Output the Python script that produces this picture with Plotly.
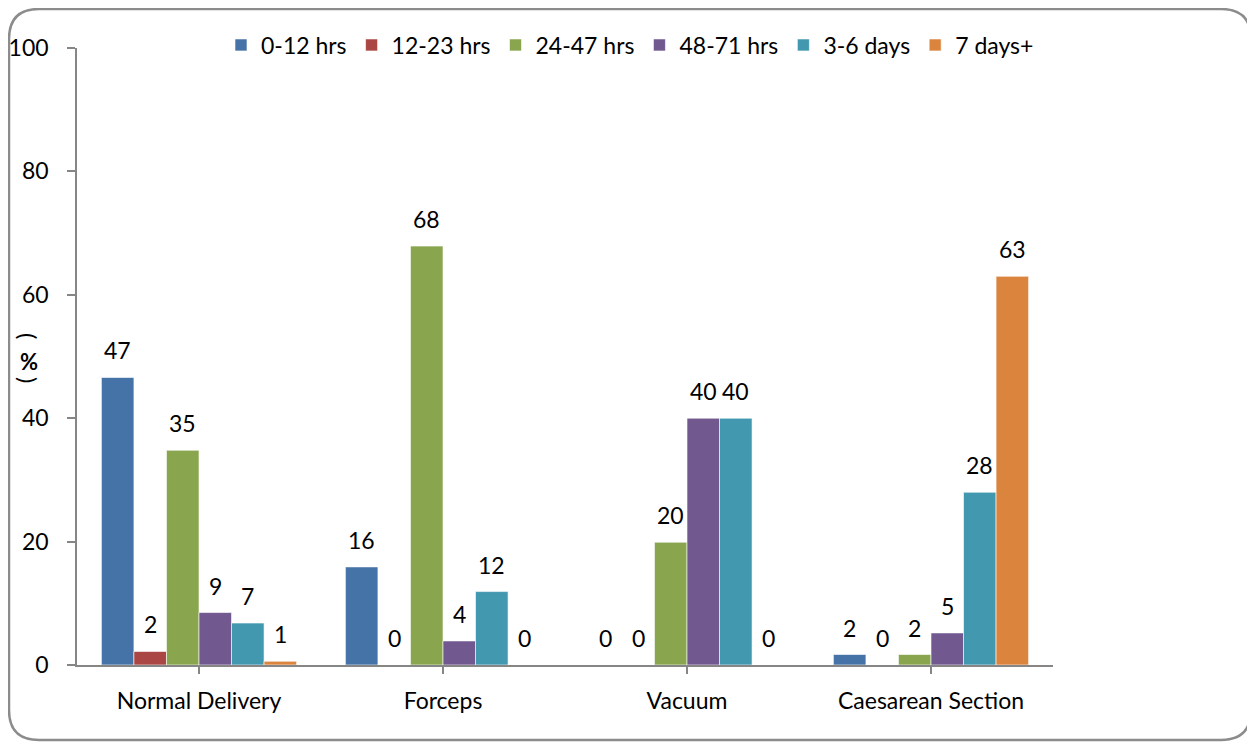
import plotly.graph_objects as go

categories = ["Normal Delivery", "Forceps", "Vacuum", "Caesarean Section"]
series_names = ["0-12 hrs", "12-23 hrs", "24-47 hrs", "48-71 hrs", "3-6 days", "7 days+"]
colors = ["#4572A7", "#AA4643", "#89A54E", "#71588F", "#4198AF", "#DB843D"]

# bar heights
v_0_12 = [46.6, 15.9, 0.0, 1.7]
v_12_23 = [2.2, 0.0, 0.0, 0.0]
v_24_47 = [34.8, 67.9, 19.9, 1.7]
v_48_71 = [8.5, 3.9, 40.0, 5.2]
v_3_6 = [6.8, 11.9, 40.0, 28.0]
v_7plus = [0.6, 0.0, 0.0, 63.0]

# label texts shown on the chart
t_0_12 = ["47", "16", "0", "2"]
t_12_23 = ["2", "0", "0", "0"]
t_24_47 = ["35", "68", "20", "2"]
t_48_71 = ["9", "4", "40", "5"]
t_3_6 = ["7", "12", "40", "28"]
t_7plus = ["1", "0", "0", "63"]

values = [v_0_12, v_12_23, v_24_47, v_48_71, v_3_6, v_7plus]
labels = [t_0_12, t_12_23, t_24_47, t_48_71, t_3_6, t_7plus]

FONT = "Lato"
FS = 23
OFF = 8  # browser body margin
W, H = 1255 - OFF, 744 - OFF
# plot area in window pixels
L, R, T, B = 77, 1053, 48, 665

fig = go.Figure()
for name, col, vals in zip(series_names, colors, values):
    fig.add_trace(go.Bar(
        name=name, x=list(range(len(categories))), y=vals,
        marker=dict(color=col, line=dict(color="white", width=0.6)),
    ))

bargap = 0.2
n = len(series_names)
w = (1 - bargap) / n
annotations = []
for j, (vals, txts) in enumerate(zip(values, labels)):
    for i, (v, t) in enumerate(zip(vals, txts)):
        annotations.append(dict(
            x=i + (j - (n - 1) / 2) * w, y=v, xref="x", yref="y",
            text=t, showarrow=False, xanchor="center", yanchor="bottom", yshift=11,
            font=dict(family=FONT, size=FS, color="black"),
        ))

def px(x):
    return (x - L) / (R - L)

def py(y):
    return (B - y) / (B - T)

# y-axis title: ( % ) stacked vertically, parentheses turned sideways
ax_x = px(29)
annotations.append(dict(x=ax_x, y=py(336), xref="paper", yref="paper", text="(", textangle=90,
                        xanchor="center", yanchor="middle", showarrow=False,
                        font=dict(family=FONT, size=24, color="black")))
annotations.append(dict(x=ax_x, y=py(361), xref="paper", yref="paper", text="<b>%</b>",
                        xanchor="center", yanchor="middle", showarrow=False,
                        font=dict(family=FONT, size=22, color="black")))
annotations.append(dict(x=ax_x, y=py(380), xref="paper", yref="paper", text=")", textangle=90,
                        xanchor="center", yanchor="middle", showarrow=False,
                        font=dict(family=FONT, size=24, color="black")))

# rounded frame (window pixel coords, clamped inside figure)
x0, y0, x1, y1, r = OFF + 1, OFF + 1, 1251, 740, 30
pts = (f"M {px(x0 + r)},{py(y0)} L {px(x1 - r)},{py(y0)} "
       f"Q {px(x1)},{py(y0)} {px(x1)},{py(y0 + r)} "
       f"L {px(x1)},{py(y1 - r)} Q {px(x1)},{py(y1)} {px(x1 - r)},{py(y1)} "
       f"L {px(x0 + r)},{py(y1)} Q {px(x0)},{py(y1)} {px(x0)},{py(y1 - r)} "
       f"L {px(x0)},{py(y0 + r)} Q {px(x0)},{py(y0)} {px(x0 + r)},{py(y0)} Z")

fig.update_layout(
    width=W, height=H,
    margin=dict(l=L - OFF, r=1255 - R, t=T - OFF, b=744 - B, pad=0, autoexpand=False),
    paper_bgcolor="white", plot_bgcolor="white",
    barmode="group", bargap=bargap, bargroupgap=0,
    font=dict(family=FONT, size=FS, color="black"),
    showlegend=True,
    legend=dict(orientation="h", x=px(630), xanchor="center", y=py(45), yanchor="middle",
                font=dict(family=FONT, size=FS), itemwidth=30, tracegroupgap=0,
                bgcolor="rgba(0,0,0,0)"),
    annotations=annotations,
    shapes=[dict(type="path", path=pts, xref="paper", yref="paper",
                 line=dict(color="#8C8C8C", width=2.5), layer="below")],
    xaxis=dict(
        tickmode="array", tickvals=list(range(len(categories))), ticktext=categories,
        range=[-0.5, len(categories) - 0.5],
        showline=True, linecolor="#868686", linewidth=1.5,
        ticks="outside", tickson="boundaries", ticklen=7, tickcolor="#868686", tickwidth=1.5,
        showgrid=False, zeroline=False, ticklabelstandoff=8,
        tickfont=dict(family=FONT, size=FS),
    ),
    yaxis=dict(
        range=[0, 100], dtick=20, tick0=0,
        showline=True, linecolor="#868686", linewidth=1.5,
        ticks="outside", ticklen=8, tickcolor="#868686", tickwidth=1.5,
        showgrid=False, zeroline=False, ticklabelstandoff=14,
        tickfont=dict(family=FONT, size=FS),
    ),
)

fig.write_html("out.html")
